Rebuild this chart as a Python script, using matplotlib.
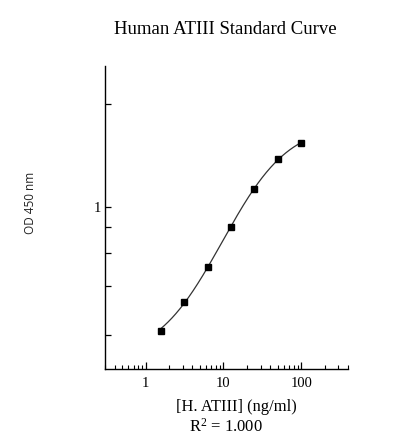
import numpy as np
import matplotlib
matplotlib.use("Agg")
import matplotlib.pyplot as plt

# ---- data ----
conc = [1.5625, 3.125, 6.25, 12.5, 25, 50, 100]          # ng/ml
od = [0.214, 0.325, 0.509, 0.805, 1.209, 1.635, 1.934]     # OD 450 nm
x_ticks = [1, 10, 100]
x_ticklabels = ["1", "10", "100"]
y_ticks = [0.2, 0.4, 0.6, 0.8, 1, 2.85]
y_ticklabels = ["", "", "", "", "1", ""]
title = "Human ATIII Standard Curve"
xlabel = "[H. ATIII] (ng/ml)"
ylabel = "OD 450 nm"
r2_text = r"R$^{2}$ = 1.000"

# ---- 4PL fit (Levenberg-Marquardt in numpy) ----
x = np.array(conc, float)
y = np.array(od, float)

def model(p, xx):
    a, b, logc, d = p
    return d + (a - d) / (1 + (xx / 10 ** logc) ** b)

p = np.array([0.1, 1.0, np.log10(15.0), 2.5])
lam = 1e-3
for _ in range(500):
    r = y - model(p, x)
    J = np.zeros((len(x), 4))
    for k in range(4):
        dp = np.zeros(4); dp[k] = 1e-6
        J[:, k] = (model(p + dp, x) - model(p - dp, x)) / 2e-6
    A = J.T @ J
    g = J.T @ r
    step = np.linalg.solve(A + lam * np.diag(np.diag(A)), g)
    pn = p + step
    if np.sum((y - model(pn, x)) ** 2) < np.sum(r ** 2):
        p = pn; lam *= 0.5
    else:
        lam *= 3

xf = np.geomspace(x.min(), x.max(), 300)
yf = model(p, xf)

# ---- figure ----
C = 0.15
def fwd(v):
    return np.log10(np.clip(np.asarray(v, float) + C, 1e-6, None))
def inv(v):
    return 10 ** np.asarray(v, float) - C

serif = "Liberation Serif"
plt.rcParams["mathtext.fontset"] = "custom"
plt.rcParams["mathtext.rm"] = serif
plt.rcParams["mathtext.it"] = serif + ":italic"

fig = plt.figure(figsize=(4.18, 4.47), dpi=100)
ax = fig.add_axes([105/418, 1-368.5/447, (348-105)/418, (368.5-66)/447])
ax.set_xscale("log")
ax.set_yscale("function", functions=(fwd, inv))
ax.set_xlim(0.3, 400)
ax.set_ylim(0.106, 4.10)

ax.plot(xf, yf, color="#333333", lw=0.9, zorder=2)
ax.plot(x, y, ls="none", marker="s", ms=3.9, color="black", zorder=3)

for s in ["top", "right"]:
    ax.spines[s].set_visible(False)
for s in ["left", "bottom"]:
    ax.spines[s].set_linewidth(1.0)
    ax.spines[s].set_color("black")

ax.set_xticks(x_ticks)
ax.set_xticklabels(x_ticklabels, fontfamily=serif, fontsize=10.5)
ax.xaxis.set_minor_locator(matplotlib.ticker.LogLocator(base=10, subs=np.arange(2, 10)))
ax.xaxis.set_minor_formatter(matplotlib.ticker.NullFormatter())
ax.set_yticks(y_ticks)
ax.set_yticklabels(y_ticklabels, fontfamily=serif, fontsize=10.5)
ax.yaxis.set_minor_locator(matplotlib.ticker.NullLocator())

ax.tick_params(axis="x", which="major", direction="in", length=5, width=0.9, pad=6)
ax.tick_params(axis="x", which="minor", direction="in", length=3, width=0.8)
ax.tick_params(axis="y", which="major", direction="in", length=4, width=0.9, pad=2.5)

fig.text(225/418, 1-29/447, title, ha="center", va="center", fontfamily=serif, fontsize=13.5)
fig.text(236/418, 1-407/447, xlabel, ha="center", va="center", fontfamily=serif, fontsize=11.9)
fig.text(226/418, 1-427/447, r2_text, ha="center", va="center", fontfamily=serif, fontsize=12)
fig.text(30/418, 1-203/447, ylabel, ha="center", va="center", rotation=90,
         fontfamily="Open Sans", fontsize=8.5, color="#222222")

fig.savefig("out.png", dpi=100)
